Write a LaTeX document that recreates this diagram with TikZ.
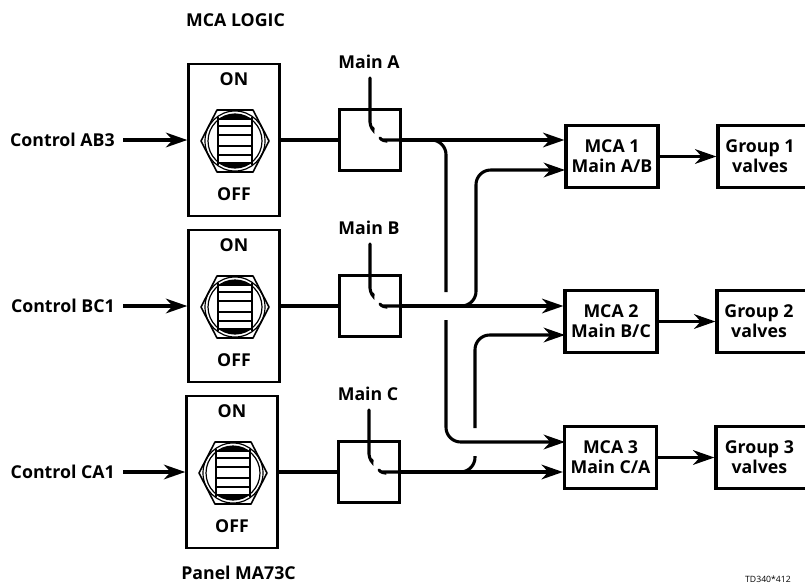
\documentclass[tikz,border=0pt]{standalone}
\usepackage{fontspec}
\setmainfont{Open Sans}
\usepackage{tikz}
\usetikzlibrary{arrows.meta,calc,positioning}
\tikzset{
  lbl/.style={font=\bfseries\fontsize{13.3}{15}\selectfont,inner sep=0pt,align=center},
  panelbox/.style={draw,line width=2.1pt,minimum width=68pt,minimum height=114pt,inner sep=0pt},
  mainbox/.style={draw,line width=2pt,minimum width=46pt,minimum height=46pt,inner sep=0pt},
  mcabox/.style={draw,line width=2.4pt,minimum width=69pt,minimum height=46pt,inner sep=0pt,lbl},
  groupbox/.style={draw,line width=2.4pt,minimum width=69pt,minimum height=46pt,inner sep=0pt},
  wire/.style={line width=2.3pt},
  feed/.style={line width=2.3pt,-{Stealth[length=16pt,width=11pt,inset=5pt]}},
}
% toggle switch on a panel
\newcommand{\toggleswitch}[1]{%
  \begin{scope}[shift={(#1)}]
    \draw[line width=1.2pt,line join=round] (-34,0) -- (-18,-31) -- (18,-31) -- (34,0) -- (18,31) -- (-18,31) -- cycle;
    \draw[line width=0.9pt] (0,0) circle[radius=30];
    \draw[line width=0.9pt] (0,0) circle[radius=27];
    \begin{scope}
      \clip (0,0) circle[radius=27];
      \fill (-17,-30) rectangle (17,-21);
      \fill (-17,21) rectangle (17,30);
    \end{scope}
    \draw[line width=1.3pt] (-17,-24) -- (-17,24) (17,-24) -- (17,24);
    \foreach \yy/\bar in {-15/1.4pt,-6/1.8pt,5/1.8pt,14/1.4pt}
      \draw[line width=\bar] (-17,\yy) -- (17,\yy);
  \end{scope}}
\begin{document}
\begin{tikzpicture}[x=0.75pt,y=-0.75pt]
  \useasboundingbox (0,0) rectangle (805,585);
  \node[lbl] (title) at (235.5,20) {MCA LOGIC};
  \node[lbl] (panelname) at (238.5,573) {Panel MA73C};
  \node[inner sep=0pt,font=\fontsize{6.5}{8}\selectfont] (tag) at (768,579) {TD340*412};

  % the three channels
  \foreach \ch/\ctl/\px/\mx/\yy in {A/AB3/234/370/140,B/BC1/234/370/306,C/CA1/232/369/472} {
    \node[panelbox] (panel\ch) at (\px,\yy) {};
    \node[lbl] (on\ch) at ($(panel\ch.center)+(0,-61)$) {ON};
    \node[lbl] (off\ch) at ($(panel\ch.center)+(0,54)$) {OFF};
    \toggleswitch{$(panel\ch.center)+(1,1)$}
    \node[lbl,anchor=east] (ctl\ch) at (115,\yy) {Control \ctl};
    \draw[feed] (123,\yy) -- (panel\ch.west);
    \node[mainbox] (main\ch) at (\mx,\yy) {};
    \node[lbl] (mainlbl\ch) at ($(main\ch.center)+(-1,-78)$) {Main \ch};
    \coordinate (stem\ch) at ($(main\ch.center)+(0,-62)$);
    \coordinate (contact\ch) at ($(main\ch.center)+(15,0)$);
    \draw[wire] (panel\ch.east) -- (main\ch.west);
    \draw[wire,line cap=round] (stem\ch) -- ++(0,44) .. controls +(0,4) and +(1,5) .. ++(3,6);
    \draw[wire,line cap=round] ($(contact\ch)+(-5,-2)$) .. controls +(1,2) and +(2,2) .. (contact\ch) -- (main\ch.east);
  }

  % destination boxes
  \node[mcabox] (mca1) at (612,156.5) {MCA 1\\Main A/B};
  \node[mcabox] (mca2) at (611,321.5) {MCA 2\\Main B/C};
  \node[mcabox] (mca3) at (610.5,457.5) {MCA 3\\Main C/A};
  \node[groupbox,label={[lbl,xshift=-3pt]center:Group 1\\valves}] (group1) at (764,156.5) {};
  \node[groupbox,label={[lbl,xshift=-3pt]center:Group 2\\valves}] (group2) at (763,321.5) {};
  \node[groupbox,label={[lbl,xshift=-2pt]center:Group 3\\valves}] (group3) at (762,457.5) {};
  \foreach \n in {1,2,3}
    \draw[feed] (mca\n.east) -- (group\n.west);

  \coordinate (in1a) at (mca1.west |- mainA);
  \coordinate (in1b) at (565,170);
  \coordinate (in2a) at (mca2.west |- mainB);
  \coordinate (in2b) at (565,335);
  \coordinate (in3a) at (565,442);
  \coordinate (in3b) at (mca3.west |- mainC);

  % straight feeds
  \draw[feed] (mainA.east) -- (in1a);
  \draw[feed] (mainB.east) -- (in2a);
  \draw[feed] (mainC.east) -- (in3b);

  % crossovers, with breaks
  \draw[wire,rounded corners=11pt] (428,140) -- (446,140) -- (446,292);
  \draw[feed,rounded corners=11pt] (446,320) -- (446,442) -- (in3a);
  \draw[feed,rounded corners=11pt] (458,306) -- (476,306) -- (476,170) -- (in1b);
  \draw[wire,rounded corners=11pt] (458,472) -- (475,472) -- (475,456);
  \draw[feed,rounded corners=11pt] (475,428) -- (475,335) -- (in2b);
\end{tikzpicture}
\end{document}
